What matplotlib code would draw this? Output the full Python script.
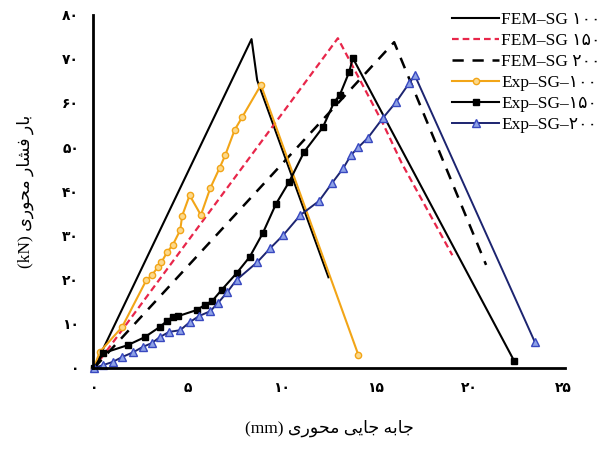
import numpy as np
import matplotlib
matplotlib.use("Agg")
import matplotlib.pyplot as plt

plt.rcParams['font.family'] = ['Liberation Serif', 'DejaVu Sans']

# FEM curves (displacement mm, load kN)
fem100_x = [0, 8.4, 8.7, 12.5]
fem100_y = [0, 74.6, 65.3, 20.6]
fem150_x = [0, 13.0, 15.4, 16.4, 19.1]
fem150_y = [0, 74.8, 55.5, 46.5, 25.6]
fem200_x = [0, 16.0, 20.9]
fem200_y = [0, 73.9, 23.4]

# experimental curves
exp100_x = [0, 0.3, 1.5, 2.8, 3.1, 3.4, 3.6, 3.9, 4.2, 4.6, 4.7, 5.1, 5.7, 6.2,
            6.7, 7.0, 7.5, 7.9, 8.9, 14.1]
exp100_y = [0, 3.6, 9.3, 20.0, 21.1, 22.9, 24.0, 26.3, 27.9, 31.3, 34.5, 39.2,
            34.7, 40.8, 45.4, 48.3, 54.0, 56.9, 64.2, 2.9]
exp150_x = [0, 0.5, 1.8, 2.7, 3.5, 3.9, 4.2, 4.5, 5.5, 5.9, 6.3, 6.8, 7.6, 8.3,
            9.0, 9.7, 10.4, 11.2, 12.2, 12.8, 13.1, 13.6, 13.8, 22.4]
exp150_y = [0, 3.4, 5.2, 7.0, 9.3, 10.7, 11.6, 11.8, 13.2, 14.3, 15.2, 17.7,
            21.5, 25.2, 30.6, 37.2, 42.2, 49.0, 54.6, 60.3, 61.9, 67.1, 70.3, 1.6]
exp200_x = [0, 0.5, 1.0, 1.5, 2.1, 2.6, 3.1, 3.5, 4.0, 4.6, 5.1, 5.6, 6.2, 6.6,
            7.1, 7.6, 8.7, 9.4, 10.1, 11.0, 12.0, 12.7, 13.3, 13.7, 14.1, 14.6,
            15.4, 16.1, 16.8, 17.1, 23.5]
exp200_y = [0, 0.7, 1.4, 2.5, 3.6, 4.8, 5.7, 7.0, 8.2, 8.6, 10.4, 11.8, 12.9,
            14.7, 17.2, 20.0, 24.0, 27.2, 30.2, 34.7, 37.9, 42.0, 45.4, 48.3,
            50.1, 52.2, 56.7, 60.3, 64.6, 66.4, 5.9]

x_ticks = [0, 5, 10, 15, 20, 25]
y_ticks = [0, 10, 20, 30, 40, 50, 60, 70, 80]

FA_DIGITS = str.maketrans('0123456789', '۰۱۲۳۴۵۶۷۸۹')


def fa(n):
    return str(n).translate(FA_DIGITS)


# crude persian shaping (presentation forms), visual order
FORMS = {
    'ا': ('\uFE8D', '\uFE8E', None, None),
    'ب': ('\uFE8F', '\uFE90', '\uFE91', '\uFE92'),
    'ر': ('\uFEAD', '\uFEAE', None, None),
    'ف': ('\uFED1', '\uFED2', '\uFED3', '\uFED4'),
    'ش': ('\uFEB5', '\uFEB6', '\uFEB7', '\uFEB8'),
    'م': ('\uFEE1', '\uFEE2', '\uFEE3', '\uFEE4'),
    'ح': ('\uFEA1', '\uFEA2', '\uFEA3', '\uFEA4'),
    'و': ('\uFEED', '\uFEEE', None, None),
    'ی': ('\uFEEF', '\uFEF0', '\uFEF3', '\uFEF4'),
    'ج': ('\uFE9D', '\uFE9E', '\uFE9F', '\uFEA0'),
    'ه': ('\uFEE9', '\uFEEA', '\uFEEB', '\uFEEC'),
}


def shape_word(w):
    out = []
    for i, c in enumerate(w):
        f = FORMS[c]
        prev_joins = i > 0 and FORMS[w[i - 1]][2] is not None
        next_joins = i < len(w) - 1 and f[2] is not None
        if prev_joins and next_joins:
            g = f[3]
        elif prev_joins:
            g = f[1]
        elif next_joins:
            g = f[2]
        else:
            g = f[0]
        out.append(g)
    return ''.join(reversed(out))


def fa_label(words, unit):
    return unit + ' ' + ' '.join(shape_word(w) for w in reversed(words))


xlabel = fa_label(['جابه', 'جایی', 'محوری'], '(mm)')
ylabel = fa_label(['بار', 'فشار', 'محوری'], '(kN)')

fig = plt.figure(figsize=(6.05, 4.5), dpi=100)
ax = fig.add_axes([0.1537, 0.182, 0.78, 0.784])

ax.plot(fem100_x, fem100_y, color='black', lw=1.5, label='FEM–SG ' + fa(100))
ax.plot(fem150_x, fem150_y, color='#e8264a', lw=1.6, dashes=(3, 1.8),
        label='FEM–SG ' + fa(150))
ax.plot(fem200_x, fem200_y, color='black', lw=1.8, dashes=(4.5, 3.5),
        label='FEM–SG ' + fa(200))
ax.plot(exp100_x, exp100_y, color='#f2a517', lw=1.5, marker='o', ms=4.5,
        mfc='#fcd98c', mec='#f2a517', mew=1, label='Exp–SG–' + fa(100),
        clip_on=False)
ax.plot(exp150_x, exp150_y, color='black', lw=1.5, marker='s', ms=5,
        mfc='black', mec='black', label='Exp–SG–' + fa(150), clip_on=False)
ax.plot(exp200_x, exp200_y, color='#1c2470', lw=1.4, marker='^', ms=6,
        mfc='#8ea2e6', mec='#3848c0', mew=1, label='Exp–SG–' + fa(200),
        clip_on=False)

ax.set_xlim(-0.05, 25.1)
ax.set_ylim(0, 80)
ax.set_xticks(x_ticks)
ax.set_xticklabels([fa(t) for t in x_ticks], fontweight='bold')
ax.set_yticks(y_ticks)
ax.set_yticklabels([fa(t) for t in y_ticks], fontweight='bold')
ax.tick_params(length=0, labelsize=10, pad=10)
for s in ['top', 'right']:
    ax.spines[s].set_visible(False)
for s in ['left', 'bottom']:
    ax.spines[s].set_linewidth(2)

ax.set_xlabel(xlabel, fontsize=12.5, labelpad=18)
ax.set_ylabel(ylabel, fontsize=12.5, labelpad=20)

ax.legend(loc='upper right', bbox_to_anchor=(1.09, 1.03), frameon=False,
          fontsize=12.5, handlelength=2.7, handletextpad=0.1,
          labelspacing=0.28, borderaxespad=0)

fig.savefig('out.png', dpi=100)
plt.close(fig)
